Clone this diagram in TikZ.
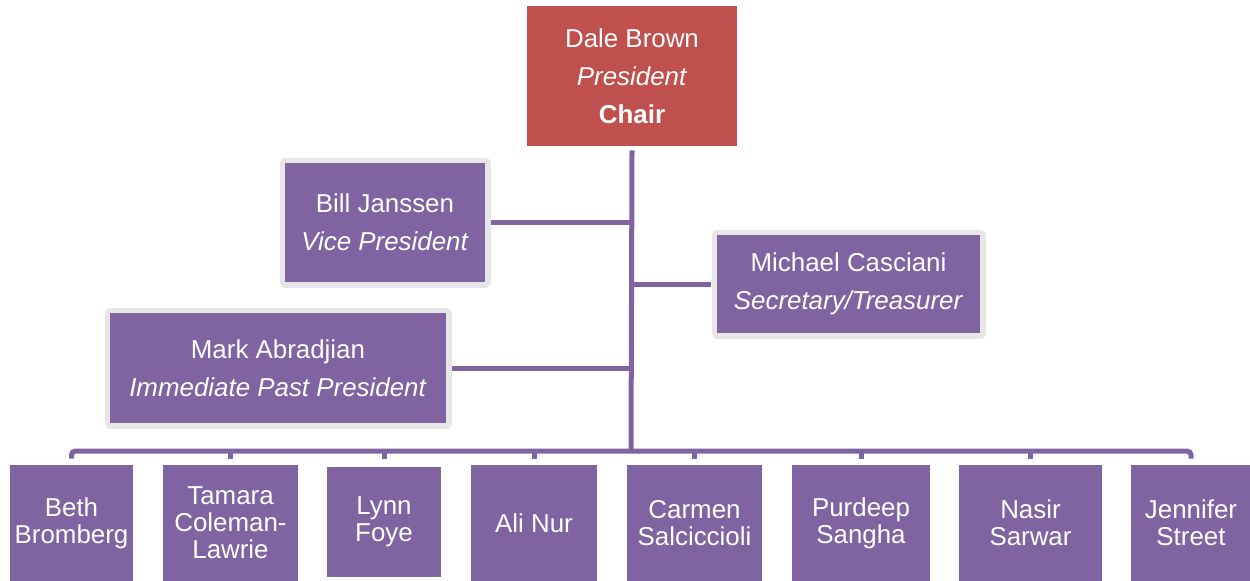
\documentclass[tikz,border=0pt]{standalone}
\usepackage{fontspec}
\setmainfont{Liberation Sans}
\usetikzlibrary{calc}
\definecolor{boxpurple}{HTML}{8064A2}
\definecolor{chairred}{HTML}{C0504D}
\definecolor{bordergray}{HTML}{E6E6E6}
\begin{document}
\begin{tikzpicture}[x=0.02cm,y=-0.02cm,
  conn/.style={draw=boxpurple, line width=0.1cm},
  bx/.style 2 args={minimum width=#1*0.02cm, minimum height=#2*0.02cm},
  basebox/.style={fill=boxpurple, text=white, inner sep=0pt, align=center},
  topfont/.style={font=\fontsize{14.74}{21.54}\selectfont},
  chairbox/.style={basebox, fill=chairred, topfont},
  officer/.style={basebox, topfont, preaction={draw=bordergray, line width=0.22cm, line join=round}},
  member/.style={basebox, font=\fontsize{14.74}{15.3}\selectfont}]
\useasboundingbox (0,0) rectangle (1250,581);

% chair and officers
\node[chairbox, bx={210}{140}] (chair) at (632,76) {Dale Brown\\\textit{President}\\\textbf{Chair}};
\node[officer, bx={200}{119}] (bill) at (385,222.5) {Bill Janssen\\\textit{Vice President}};
\node[officer, bx={263}{98}] (mich) at (848.5,284) {Michael Casciani\\\textit{Secretary/Treasurer}};
\node[officer, bx={336}{110}] (mark) at (278,368) {Mark Abradjian\\\textit{Immediate Past President}};

% members
\node[member, bx={123}{116}] (beth) at (71.5,523) {Beth\\Bromberg};
\node[member, bx={135}{116}] (tamara) at (230.5,523) {Tamara\\Coleman-\\Lawrie};
\node[member, bx={114}{110}] (lynn) at (384,522) {Lynn\\Foye};
\node[member, bx={126}{116}] (ali) at (534,523) {Ali Nur};
\node[member, bx={135}{116}] (carmen) at (694.5,523) {Carmen\\Salciccioli};
\node[member, bx={138}{116}] (purdeep) at (861,523) {Purdeep\\Sangha};
\node[member, bx={143}{116}] (nasir) at (1030.5,523) {Nasir\\Sarwar};
\node[member, bx={121}{116}] (jen) at (1191,523) {Jennifer\\Street};

% connectors
\coordinate (tb) at (631,451);
\draw[conn] ($(chair.south)+(0,4)$) -- (tb);
\draw[conn] ($(bill.east)+(5.5,0)$) -- (bill.east -| tb);
\draw[conn] ($(mich.west)+(-5.5,0)$) -- (mich.west -| tb);
\draw[conn] ($(mark.east)+(5.5,0)$) -- (mark.east -| tb);
\draw[conn, rounded corners=0.08cm] ($(beth.north)+(0,-6)$) |- (tb) -| ($(jen.north)+(0,-6)$);
\foreach \n in {tamara,ali,carmen,purdeep,nasir}
  \draw[conn] ($(\n.north)+(0,-6)$) -- (\n.north |- tb);
\draw[conn] ($(lynn.north)+(0,-8)$) -- (lynn.north |- tb);
\end{tikzpicture}
\end{document}
